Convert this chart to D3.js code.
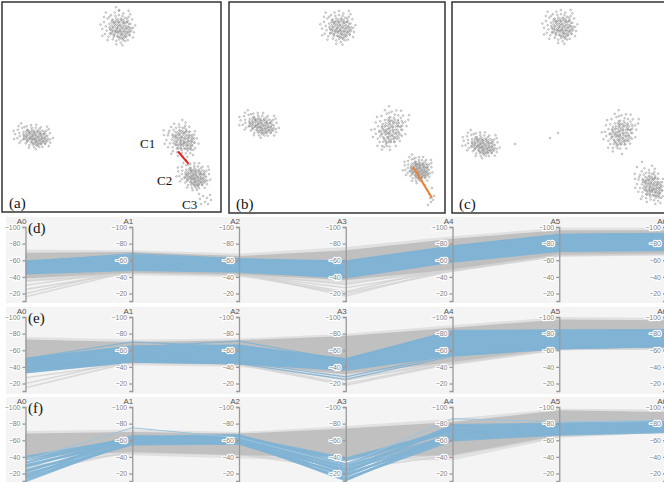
<!DOCTYPE html>
<html lang="en">
<head>
<meta charset="UTF-8">
<title>Projections and parallel coordinates</title>
<script src="https://cdn.jsdelivr.net/npm/d3@7"></script>
<style>
  html, body {margin: 0; padding: 0; background: #fff; overflow: hidden}
  svg {display: block}
  .pc .tick text {font-family: "Liberation Sans", Arial, sans-serif; font-size: 7px; fill: #808080;
      paint-order: stroke; stroke: #fff; stroke-width: 2.4px; stroke-linejoin: round}
  .pc .tick line, .pc .domain {stroke: #999; stroke-width: 1.3px}
  .serif {font-family: "Liberation Serif", "Times New Roman", serif; fill: #111}
</style>
</head>
<body>
<svg id="chart" width="664" height="482"></svg>
<script>
// ---- scatter data (panel units 0..100) ----
// unit shape of a cluster, typed by hand, reused at a couple of scales
const blobShape = [
  [-0.9,0.1],[-0.8,-0.3],[-0.75,0.4],[-0.7,-0.05],[-0.65,0.2],[-0.6,-0.5],[-0.55,0.55],[-0.5,-0.2],[-0.45,0.1],[-0.45,0.35],
  [-0.4,-0.7],[-0.35,-0.4],[-0.3,0.7],[-0.3,0.0],[-0.25,0.45],[-0.2,-0.15],[-0.2,-0.85],[-0.15,0.25],[-0.1,-0.5],[-0.1,0.8],
  [-0.05,0.05],[0.0,-0.3],[0.0,0.55],[0.05,-0.7],[0.1,0.2],[0.1,-0.1],[0.15,0.9],[0.2,-0.45],[0.2,0.4],[0.25,0.0],
  [0.3,-0.8],[0.3,0.65],[0.35,-0.25],[0.35,0.25],[0.4,-0.55],[0.45,0.05],[0.45,0.5],[0.5,-0.3],[0.55,0.3],[0.6,-0.6],
  [0.6,0.0],[0.65,0.45],[0.7,-0.2],[0.75,0.2],[0.8,-0.45],[0.85,0.05],[0.9,0.3],[-0.6,0.75],[0.55,0.75],[-0.15,-0.65],
  [0.15,0.6],[-0.35,0.2],[0.25,-0.65],[-0.8,-0.6],[0.7,-0.75],[0.0,0.3],[-0.5,-0.6],[0.4,0.8],[-0.25,-0.3],[0.05,-0.95],
  [-1.0,-0.15],[0.98,-0.1],[-0.1,1.0],[0.6,-0.95],[-0.7,-0.85],[0.85,0.6],[-0.9,0.5],[0.25,1.05]
];
const blobLayers = [[0, 0, 1], [0.13, 0.09, 0.62]];

// cx, cy, rx, ry, rotation
const clustersA = [[53,12,8,8.2,0],[14.2,63.8,9.2,5.8,10],[81.7,65.5,7.6,8.6,-25],[87.5,82.5,8,6.5,20]];
const clustersB = [[50.5,11.8,8.2,8,0],[13.9,57.8,9.6,5.8,15],[74.5,59.7,7.8,10.2,30],[87.5,79,7,6.3,20]];
const clustersC = [[50,11.4,8.2,8,0],[13.4,67.3,9,6.1,15],[77.8,61.1,7.8,9.6,30],[91.7,87,6.8,9,-20]];
const extraA = [[89,89.5],[90,91.4],[90.4,93.8],[91.8,92.4],[92.7,95.2],[93.6,93.3],[95,91.9],[95.4,94.3],[90.9,96.2],[94.1,96.2],[89.5,87.6],[52,2.5],[53.5,3.8]];
const extraB = [[90.7,86.7],[91.7,89.1],[92.6,91],[93.1,92.9],[93.5,94.8],[94.4,93.8],[92.1,96.2],[94.9,91.9],[94,88.2],[71.8,68.7],[74.5,70.1]];
const extraC = [[29.2,67.3],[45.4,64.5],[49.1,62.1],[78.7,72],[85.6,78.2],[88,75.8]];
const redLine = [[80.4,71.2],[85.2,77.1]];
const orangeLine = [[85.2,78.2],[94,92.9]];
const clusterNames = [["C1",63,69.5],["C2",70.8,87],["C3",82.2,98.6]];
const scatterLabels = ["(a)", "(b)", "(c)"];

// ---- parallel coordinates data ----
const axesNames = ["A0","A1","A2","A3","A4","A5","A6"];
const tickVals = [-100,-80,-60,-40,-20];

const dHazeHi = [-73,-72,-68,-76,-89,-99,-99];
const dHazeLo = [-34,-42,-40,-32,-46,-64,-66];
const dGrayHi = [-69,-70,-65,-72,-86,-96,-96];
const dGrayLo = [-38,-45,-43,-36,-49,-67,-68];
const dBlueHi = [-60,-67,-62,-60,-78,-92,-93];
const dBlueLo = [-43,-47,-45,-38,-57,-70,-71];
const dGrayLines = [[-16,-47,-45,-17,-50,-68,-69],[-20,-49,-44,-22,-52,-67,-68],[-25,-46,-43,-27,-48,-66,-68],
  [-30,-48,-44,-31,-51,-67,-69],[-35,-45,-42,-20,-47,-66,-67]];
const dBlueLines = [[-58,-68,-62,-58,-76,-91,-92]];

const eHazeHi = [-76,-73,-74,-80,-90,-100,-99];
const eHazeLo = [-36,-42,-40,-26,-42,-60,-61];
const eGrayHi = [-73,-70,-72,-77,-87,-97,-96];
const eGrayLo = [-40,-45,-43,-31,-46,-62,-63];
const eBlueHi = [-51,-66,-67,-50,-84,-85,-85];
const eBlueLo = [-32,-45,-43,-35,-53,-61,-64];
const eGrayLines = [[-15,-46,-44,-20,-45,-62,-63],[-20,-48,-45,-24,-47,-63,-64],[-27,-45,-43,-18,-44,-61,-62]];
const eBlueLines = [[-50,-70,-64,-50,-83,-84,-84],[-48,-64,-71,-48,-84,-84,-85],[-40,-50,-46,-28,-55,-63,-65],[-36,-48,-44,-25,-53,-62,-64]];

const fHazeHi = [-71,-73,-70,-77,-86,-98,-97];
const fHazeLo = [-36,-42,-38,-36,-36,-63,-69];
const fGrayHi = [-68,-70,-68,-74,-82,-96,-94];
const fGrayLo = [-40,-46,-42,-40,-42,-66,-71];
const fGrayLines = [[-20,-47,-44,-30,-45,-66,-70],[-28,-45,-43,-25,-42,-65,-70]];
const fBlueLines = [
  [-40,-62,-64,-38,-72,-76,-78],[-37,-60,-62,-36,-70,-74,-76],[-33,-64,-66,-31,-76,-78,-80],
  [-30,-58,-60,-29,-66,-72,-74],[-28,-63,-63,-26,-74,-77,-79],[-24,-56,-58,-24,-64,-70,-72],
  [-22,-61,-65,-21,-78,-80,-82],[-19,-55,-56,-19,-62,-68,-71],[-16,-65,-61,-17,-68,-73,-75],
  [-14,-57,-57,-14,-60,-67,-70],[-11,-59,-59,-12,-66,-71,-73]
];
const fBlueOutliers = [[-36,-75,-63,-30,-86,-82,-84]];

const svg = d3.select("#chart");

// ================= scatter panels =================
const boxes = [{x:2,y:2,w:219,h:210},{x:229,y:2,w:216,h:211},{x:452,y:2,w:216,h:211}];
const clusterSets = [clustersA, clustersB, clustersC];
const extraSets = [extraA, extraB, extraC];

boxes.forEach((b, i) => {
  const g = svg.append("g");
  const x = d3.scaleLinear().domain([0,100]).range([b.x, b.x + b.w]);
  const y = d3.scaleLinear().domain([0,100]).range([b.y, b.y + b.h]);
  let pts = [];
  clusterSets[i].forEach(([cx, cy, rx, ry, rot]) => {
    const a = rot * Math.PI / 180;
    blobLayers.forEach(([lx, ly, s]) => blobShape.forEach(([u, v]) => {
      const du = (u * s + lx) * rx, dv = (v * s + ly) * ry;
      pts.push([cx + du * Math.cos(a) - dv * Math.sin(a), cy + du * Math.sin(a) + dv * Math.cos(a)]);
    }));
  });
  pts = pts.concat(extraSets[i]);
  g.selectAll("circle").data(pts).join("circle")
    .attr("cx", d => x(d[0])).attr("cy", d => y(d[1])).attr("r", 0.85)
    .attr("fill", "none").attr("stroke", "#8c8c8c").attr("stroke-width", 0.55);

  const ln = d3.line().x(d => x(d[0])).y(d => y(d[1]));
  if (i == 0) {
    g.append("path").attr("d", ln(redLine)).attr("stroke", "#e3231c").attr("stroke-width", 2).attr("fill", "none");
    g.selectAll("text.cn").data(clusterNames).join("text").attr("class", "cn serif")
      .attr("x", d => x(d[1])).attr("y", d => y(d[2])).attr("font-size", 13).text(d => d[0]);
  }
  if (i == 1) {
    g.append("path").attr("d", ln(orangeLine)).attr("stroke", "#f07f2e").attr("stroke-width", 2).attr("fill", "none");
  }
  g.append("rect").attr("x", b.x).attr("y", b.y).attr("width", b.w).attr("height", b.h)
    .attr("fill", "none").attr("stroke", "#333").attr("stroke-width", 1.5);
  g.append("text").attr("class", "serif").attr("x", b.x + 7).attr("y", b.y + b.h - 4)
    .attr("font-size", 15).text(scatterLabels[i]);
});

// ================= parallel coordinates =================
const px = d3.scalePoint().domain(axesNames).range([25.5, 666]);
const pcPanels = [
  {label:"(d)", top:217, h:86, hazeHi:dHazeHi, hazeLo:dHazeLo, grayHi:dGrayHi, grayLo:dGrayLo, blueHi:dBlueHi, blueLo:dBlueLo, grayLines:dGrayLines, blueLines:dBlueLines, outliers:[]},
  {label:"(e)", top:307, h:87, hazeHi:eHazeHi, hazeLo:eHazeLo, grayHi:eGrayHi, grayLo:eGrayLo, blueHi:eBlueHi, blueLo:eBlueLo, grayLines:eGrayLines, blueLines:eBlueLines, outliers:[]},
  {label:"(f)", top:397, h:90, hazeHi:fHazeHi, hazeLo:fHazeLo, grayHi:fGrayHi, grayLo:fGrayLo, blueHi:null, blueLo:null, grayLines:fGrayLines, blueLines:fBlueLines, outliers:fBlueOutliers}
];

pcPanels.forEach((p, k) => {
  const g = svg.append("g").attr("class", "pc");
  const clipId = "clip" + k;
  g.append("clipPath").attr("id", clipId).append("rect")
    .attr("x", 6).attr("y", p.top).attr("width", 660).attr("height", p.h);
  g.append("rect").attr("x", 6).attr("y", p.top).attr("width", 660).attr("height", p.h).attr("fill", "#f4f4f4");

  const y = d3.scaleLinear().domain([-100, -11]).range([p.top + 10, p.top + 84]);
  const area = d3.area().x(d => px(d[0])).y0(d => y(d[2])).y1(d => y(d[1]));
  const line = d3.line().x((d, i) => px(axesNames[i])).y(d => y(d));
  const band = (hi, lo) => axesNames.map((n, i) => [n, hi[i], lo[i]]);

  const m = g.append("g").attr("clip-path", `url(#${clipId})`);
  m.append("path").attr("d", area(band(p.hazeHi, p.hazeLo))).attr("fill", "#dcdcdc").attr("opacity", 0.8);
  m.selectAll("path.gl").data(p.grayLines).join("path").attr("class", "gl")
    .attr("d", line).attr("fill", "none").attr("stroke", "#d2d2d2").attr("stroke-width", 1.6).attr("opacity", 0.8);
  m.append("path").attr("d", area(band(p.grayHi, p.grayLo))).attr("fill", "#c0c0c0");
  if (p.blueHi) {
    m.append("path").attr("d", area(band(p.blueHi, p.blueLo))).attr("fill", "#80b3d4");
  }
  m.selectAll("path.bl").data(p.blueLines).join("path").attr("class", "bl")
    .attr("d", line).attr("fill", "none").attr("stroke", "#80b3d4")
    .attr("stroke-width", p.blueHi ? 1.2 : 2.4).attr("opacity", 0.9);
  m.selectAll("path.bo").data(p.outliers).join("path").attr("class", "bo")
    .attr("d", line).attr("fill", "none").attr("stroke", "#9cc4de").attr("stroke-width", 1);

  axesNames.forEach(n => {
    const ag = g.append("g").attr("transform", `translate(${px(n)},0)`)
      .call(d3.axisLeft(y).tickValues(tickVals).tickSize(3).tickSizeOuter(3).tickPadding(2));
    ag.append("text").attr("x", 1).attr("y", p.top + 7).attr("text-anchor", "end")
      .attr("font-family", "Liberation Sans, Arial, sans-serif").attr("font-size", 8)
      .attr("fill", "#555").text(n);
  });
  g.append("text").attr("class", "serif").attr("x", 28).attr("y", p.top + 16)
    .attr("font-size", 15).text(p.label);
});
</script>
</body>
</html>
